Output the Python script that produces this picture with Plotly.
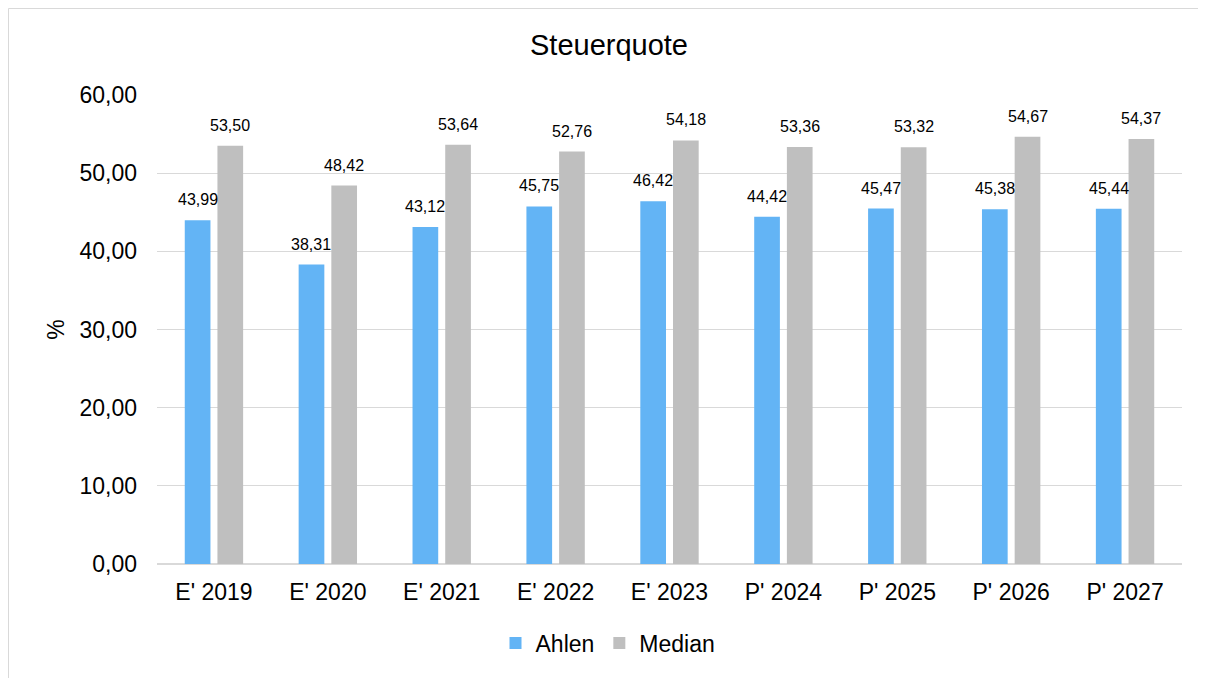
import plotly.graph_objects as go

categories = ["E' 2019", "E' 2020", "E' 2021", "E' 2022", "E' 2023", "P' 2024", "P' 2025", "P' 2026", "P' 2027"]
ahlen = [43.99, 38.31, 43.12, 45.75, 46.42, 44.42, 45.47, 45.38, 45.44]
median = [53.50, 48.42, 53.64, 52.76, 54.18, 53.36, 53.32, 54.67, 54.37]

# page has an 8px body margin; figure sized so it fits the 1206x678 window
W, H = 1198, 670
L, R, T, B = 149, 24, 87, 114
pw, ph = W - L - R, H - T - B

font = "Liberation Sans, Arial, sans-serif"
c_ahlen = "#63b4f5"
c_median = "#bfbfbf"

fig = go.Figure()
fig.add_trace(go.Bar(name="Ahlen", x=categories, y=ahlen, marker_color=c_ahlen, marker_line_width=0))
fig.add_trace(go.Bar(name="Median", x=categories, y=median, marker_color=c_median, marker_line_width=0))

def fmt(v):
    return f"{v:.2f}".replace(".", ",")

slot = 32.7  # px per bar slot within a group
annotations = []
for cat, va, vm in zip(categories, ahlen, median):
    annotations.append(dict(x=cat, y=va, text=fmt(va), showarrow=False, xanchor="center", yanchor="bottom",
                            xshift=-slot / 2, yshift=10, font=dict(size=16, family=font, color="#000000")))
    annotations.append(dict(x=cat, y=vm, text=fmt(vm), showarrow=False, xanchor="center", yanchor="bottom",
                            xshift=slot / 2, yshift=10, font=dict(size=16, family=font, color="#000000")))

def px_x(p):
    return (p - L) / pw

def px_y(p):
    return (H - B - p) / ph

fig.update_layout(
    width=W, height=H,
    margin=dict(l=L, r=R, t=T, b=B, autoexpand=False),
    paper_bgcolor="white", plot_bgcolor="white",
    font=dict(family=font, color="#000000"),
    separators=",.",
    barmode="group", bargap=0.426, bargroupgap=0.214,
    title=dict(text="Steuerquote", xref="container", x=601 / W, xanchor="center",
               yref="container", y=1 - 37 / H, yanchor="middle",
               font=dict(size=29, family=font, color="#000000")),
    legend=dict(orientation="h", x=px_x(600), xanchor="center", y=px_y(635), yanchor="middle",
                font=dict(size=23, family=font), traceorder="normal"),
    xaxis=dict(tickfont=dict(size=23), showgrid=False, showline=False, ticks="", automargin=False,
               ticklabelstandoff=12),
    yaxis=dict(range=[0, 60], dtick=10, tickformat=".2f", tickfont=dict(size=23),
               showgrid=True, gridcolor="#d9d9d9", gridwidth=1, zeroline=True, zerolinecolor="#d9d9d9",
               zerolinewidth=1.5, ticks="", automargin=False, ticklabelstandoff=19,
               title=dict(text="%", font=dict(size=23), standoff=8)),
    annotations=annotations,
    shapes=[dict(type="rect", xref="paper", yref="paper",
                 x0=px_x(0.5), x1=px_x(W + 20), y0=px_y(0.5), y1=px_y(H + 20),
                 line=dict(color="#d9d9d9", width=1), fillcolor="rgba(0,0,0,0)", layer="below")],
)

fig.write_html("out.html")
